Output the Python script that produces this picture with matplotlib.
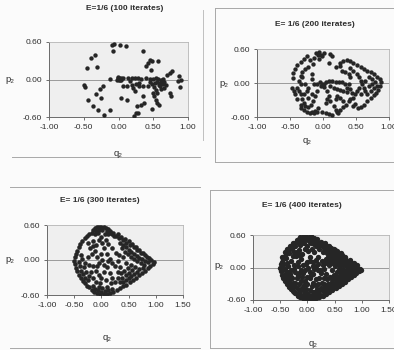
import matplotlib
matplotlib.use("Agg")
import matplotlib.pyplot as plt
from matplotlib.lines import Line2D
import numpy as np

plt.rcParams['font.family'] = ['Liberation Sans', 'DejaVu Sans']

# ---------------- data (q2, p2) ----------------
pts_100 = [(-0.10,0.55),(-0.06,0.57),(0.02,0.55),(0.11,0.54),(-0.08,0.45),(0.35,0.45),
    (-0.34,0.39),(-0.39,0.34),(-0.46,0.18),(-0.31,0.20),(0.45,0.31),(0.48,0.29),(0.42,0.26),
    (0.57,0.30),(0.39,0.22),(0.47,0.16),(0.77,0.14),(0.74,0.10),(0.70,0.08),(0.87,0.05),
    (0.90,-0.01),(0.88,-0.12),(-0.12,0.01),(-0.01,0.04),(0.01,0.02),(0.03,0.03),(-0.02,0.00),
    (0.00,-0.01),(0.04,0.00),(-0.01,0.03),(0.02,-0.01),(0.07,0.02),(0.14,0.02),(0.19,0.02),
    (0.24,0.03),(0.28,0.02),(0.33,0.01),(0.39,0.02),(0.45,0.01),(0.50,0.01),(0.54,0.02),
    (0.57,0.01),(0.61,0.00),(0.64,0.01),(0.06,-0.10),(0.12,-0.10),(0.19,-0.09),(0.21,-0.14),
    (0.25,-0.07),(0.29,-0.11),(0.35,-0.10),(0.42,-0.11),(0.48,-0.07),(0.51,-0.12),(0.58,-0.09),
    (0.64,-0.07),(0.69,-0.09),(0.66,-0.14),(0.61,-0.15),(0.54,-0.16),(0.50,-0.21),(0.51,-0.26),
    (0.56,-0.22),(0.74,-0.21),(0.76,-0.26),(-0.50,-0.09),(-0.48,-0.12),(-0.22,-0.10),
    (-0.27,-0.15),(-0.32,-0.23),(-0.25,-0.29),(-0.44,-0.32),(-0.37,-0.43),(-0.30,-0.48),
    (-0.21,-0.57),(-0.12,-0.48),(0.04,-0.29),(0.12,-0.32),(0.25,-0.53),(0.22,-0.58),
    (0.28,-0.54),(0.27,-0.43),(0.33,-0.40),(0.37,-0.37),(0.35,-0.27),(0.48,-0.47),(0.56,-0.37),
    (0.58,-0.40),(0.54,-0.33),(0.24,-0.18),(0.86,-0.02),(0.55,-0.04),(0.59,-0.05),(0.62,-0.03),
    (0.52,-0.05),(0.60,-0.11),(0.66,-0.04),(0.45,-0.04),(0.16,-0.03),(0.30,-0.05)]

pts_200 = [(-0.11,0.53),(-0.08,0.49),(-0.06,0.54),(-0.03,0.50),(-0.01,0.47),(-0.06,0.43),
    (0.02,0.53),(0.11,0.52),(0.13,0.47),(0.09,0.36),(-0.25,0.47),(-0.29,0.42),(-0.34,0.37),
    (-0.39,0.31),(-0.43,0.24),(-0.45,0.18),(-0.46,0.09),(-0.47,-0.08),(-0.44,-0.14),
    (-0.42,-0.20),(-0.39,-0.29),(-0.34,-0.38),(-0.29,-0.47),(-0.24,-0.52),(-0.19,-0.53),
    (-0.14,-0.53),(-0.09,-0.52),(0.04,-0.53),(0.09,-0.55),(0.14,-0.56),(0.22,-0.53),
    (0.26,-0.47),(0.30,-0.43),(0.35,-0.38),(0.39,-0.32),(0.41,-0.29),(0.45,-0.41),(0.49,-0.37),
    (0.53,-0.44),(0.57,-0.43),(0.62,-0.39),(0.67,-0.32),(0.72,-0.26),(0.77,-0.21),(0.81,-0.17),
    (0.84,-0.13),(0.87,-0.05),(0.88,0.01),(0.86,0.07),(0.82,0.10),(0.78,0.16),(0.73,0.19),
    (0.67,0.21),(0.62,0.25),(0.57,0.28),(0.52,0.32),(0.46,0.35),(0.41,0.38),(0.36,0.41),
    (0.31,0.39),(0.26,0.36),(0.41,0.27),(0.46,0.22),(0.51,0.16),(0.54,0.10),(0.57,0.03),
    (0.59,-0.02),(0.62,-0.08),(0.64,-0.14),(0.67,-0.20),(0.54,-0.08),(0.52,-0.14),(0.49,-0.20),
    (0.46,-0.26),(0.57,-0.20),(0.69,-0.05),(0.74,-0.02),(0.77,-0.08),(0.72,-0.14),(0.64,0.04),
    (0.69,0.10),(0.74,0.07),(0.79,0.01),(0.82,-0.05),(-0.04,0.01),(-0.02,-0.01),(0.01,-0.02),
    (0.04,0.01),(-0.03,-0.05),(0.02,-0.07),(0.09,0.04),(0.14,0.03),(0.19,0.01),(0.24,0.02),
    (0.29,0.01),(0.34,-0.01),(0.39,-0.02),(0.11,-0.05),(0.16,-0.08),(0.21,-0.11),(0.26,-0.13),
    (0.31,-0.14),(0.36,-0.15),(0.06,-0.14),(0.09,-0.23),(0.06,-0.29),(0.05,-0.35),(0.11,-0.32),
    (0.19,-0.29),(0.21,-0.23),(0.26,-0.26),(0.31,-0.32),(0.16,-0.41),(-0.09,-0.14),(-0.12,-0.23),
    (-0.15,-0.32),(-0.18,-0.38),(-0.22,-0.43),(-0.27,-0.41),(-0.29,-0.35),(-0.32,-0.29),
    (-0.29,-0.20),(-0.25,-0.14),(-0.23,-0.08),(-0.27,-0.02),(-0.34,-0.02),(-0.37,0.04),
    (-0.34,0.13),(-0.32,0.19),(-0.27,0.25),(-0.22,0.28),(-0.17,0.16),(-0.09,-0.02),(-0.13,-0.01),
    (-0.17,0.07),(-0.39,-0.08),(-0.37,-0.14),(-0.34,-0.20),(-0.22,-0.26),(-0.17,-0.20),
    (0.36,-0.08),(0.41,-0.11),(0.44,-0.17),(-0.34,-0.44),(-0.17,-0.52),(-0.12,-0.49),
    (0.21,-0.52),(0.19,-0.47),(-0.02,-0.52),(-0.07,-0.44),(0.41,0.10),(0.39,0.16),(0.34,0.19),
    (0.29,0.22),(0.25,0.30),(0.20,0.28),(-0.19,0.41),(-0.14,0.44),(-0.15,0.33),(-0.32,0.10)]

pts_300 = [(-0.12,0.55),(-0.08,0.57),(-0.04,0.56),(0.00,0.57),(0.04,0.56),(0.08,0.55),
    (0.12,0.54),(-0.15,0.52),(-0.10,0.50),(-0.05,0.52),(0.02,0.51),(0.10,0.49),(0.15,0.50),
    (0.18,0.47),(-0.18,0.47),(-0.12,0.45),(-0.06,0.46),(0.06,0.45),(0.13,0.44),(0.20,0.44),
    (0.24,0.41),(-0.22,0.45),(-0.27,0.41),(-0.31,0.37),(-0.35,0.32),(-0.39,0.27),(-0.42,0.22),
    (-0.45,0.16),(-0.47,0.11),(-0.49,0.06),(-0.24,0.29),(-0.15,0.24),(-0.21,0.21),
    (0.22,0.46),(0.27,0.42),(0.30,0.44),(0.33,0.38),(0.36,0.40),(0.40,0.34),(0.43,0.36),
    (0.46,0.30),(0.50,0.32),(0.52,0.26),(0.56,0.27),(0.60,0.22),(0.63,0.23),(0.66,0.18),
    (0.70,0.17),(0.73,0.12),(0.77,0.12),(0.80,0.08),(0.84,0.06),(0.88,0.03),(0.92,0.00),
    (0.96,-0.03),(0.94,-0.06),(0.35,0.30),(0.40,0.26),(0.45,0.22),(0.50,0.18),(0.55,0.14),
    (0.60,0.10),(0.65,0.07),(0.70,0.04),(0.75,0.01),(0.80,-0.02),(0.85,-0.04),(0.38,0.20),
    (0.44,0.14),(0.48,0.10),(0.54,0.06),(0.60,0.02),(0.66,-0.02),(0.72,-0.05),(0.78,-0.08),
    (0.90,-0.10),(0.85,-0.14),(0.80,-0.18),(0.75,-0.22),(0.70,-0.26),(0.64,-0.30),(0.58,-0.34),
    (0.52,-0.38),(0.46,-0.42),(0.40,-0.45),(0.34,-0.48),(0.28,-0.52),(0.76,-0.13),(0.70,-0.16),
    (0.65,-0.20),(0.60,-0.24),(0.55,-0.28),(0.50,-0.31),(0.45,-0.35),(0.40,-0.38),(0.62,-0.12),
    (0.56,-0.17),(0.50,-0.22),(0.45,-0.26),(0.38,-0.30),(0.54,-0.08),(0.48,-0.13),(0.42,-0.18),
    (0.22,-0.55),(0.16,-0.57),(0.10,-0.58),(0.04,-0.58),(-0.02,-0.58),(-0.08,-0.57),(-0.14,-0.55),
    (0.20,-0.50),(0.13,-0.52),(0.06,-0.53),(0.00,-0.55),(-0.06,-0.52),(-0.12,-0.50),(-0.18,-0.52),
    (0.10,-0.46),(0.02,-0.48),(-0.05,-0.46),(-0.15,-0.45),(-0.22,-0.47),(-0.26,-0.44),
    (-0.30,-0.40),(-0.34,-0.36),(-0.38,-0.31),(-0.42,-0.25),(-0.45,-0.19),(-0.47,-0.13),
    (-0.49,-0.07),(-0.50,-0.01),(-0.30,-0.30),(-0.34,-0.24),(-0.38,-0.18),(-0.40,-0.10),
    (-0.42,-0.03),(-0.25,-0.35),(-0.22,-0.28),(-0.28,-0.20),(-0.32,-0.12),(-0.36,0.02),
    (-0.38,0.08),(-0.18,0.10),(-0.12,0.15),(-0.08,0.05),(-0.05,-0.05),(0.00,0.10),(0.05,0.20),
    (0.02,0.30),(-0.05,0.35),(0.08,0.35),(0.12,0.28),(0.10,0.10),(0.15,0.02),(0.20,-0.05),
    (0.25,-0.10),(0.30,-0.02),(0.32,0.08),(0.26,0.12),(0.20,0.20),(-0.15,-0.10),(-0.10,-0.18),
    (-0.05,-0.25),(0.00,-0.30),(0.05,-0.20),(0.10,-0.12),(0.15,-0.22),(0.20,-0.30),(0.25,-0.38),
    (0.30,-0.20),(0.35,-0.12),(-0.20,-0.20),(-0.15,-0.30),(-0.10,-0.38),(-0.02,-0.40),
    (0.08,-0.35),(0.18,-0.40),(0.35,-0.38),(0.30,-0.30),(-0.25,0.05),(-0.30,-0.05),(-0.22,-0.08),
    (-0.10,0.25),(-0.15,0.32),(0.00,0.40),(0.05,-0.08),(0.12,-0.02),(0.40,0.05),(0.45,-0.05),
    (0.36,-0.22),(-0.08,-0.10),(0.02,0.00)]

pts_301_400 = [(-0.45,0.05),(-0.47,-0.05),(-0.44,-0.15),(-0.40,-0.22),(-0.36,-0.28),
    (-0.32,-0.34),(-0.28,-0.40),(-0.24,-0.46),(-0.18,-0.50),(-0.10,-0.54),(0.00,-0.52),
    (0.08,-0.56),(0.14,-0.54),(0.24,-0.50),(0.30,-0.46),(0.36,-0.43),(0.42,-0.40),(0.48,-0.36),
    (0.55,-0.32),(0.62,-0.27),(0.68,-0.22),(0.74,-0.17),(0.82,-0.12),(0.88,-0.07),(0.98,-0.05),
    (0.92,0.04),(0.86,0.08),(0.78,0.14),(0.70,0.20),(0.62,0.26),(0.55,0.30),(0.48,0.35),
    (0.40,0.40),(0.32,0.45),(0.25,0.48),(0.18,0.52),(0.06,0.58),(-0.06,0.58),(-0.14,0.56),
    (-0.20,0.50),(-0.26,0.46),(-0.32,0.40),(-0.38,0.34),(-0.42,0.28),(-0.46,0.20),(-0.40,0.18),
    (-0.34,0.26),(-0.28,0.34),(-0.22,0.40),(-0.30,0.12),(-0.26,0.22),(-0.20,0.28),(-0.14,0.42),
    (-0.08,0.48),(0.04,0.48),(0.16,0.40),(0.22,0.34),(0.28,0.28),(0.30,0.36),(0.36,0.26),
    (0.42,0.28),(0.48,0.24),(0.52,0.20),(0.58,0.16),(0.64,0.12),(0.68,0.10),(0.74,0.06),
    (0.82,0.02),(0.70,-0.10),(0.64,-0.06),(0.58,-0.02),(0.50,0.02),(0.46,0.08),(0.40,0.12),
    (0.34,0.16),(0.28,0.04),(0.24,-0.04),(0.20,0.06),(0.16,0.14),(0.10,0.02),(0.06,-0.14),
    (0.00,-0.18),(-0.06,-0.32),(-0.12,-0.24),(-0.18,-0.14),(-0.24,-0.02),(-0.18,0.02),
    (-0.12,-0.04),(-0.02,0.06),(0.04,0.12),(0.10,-0.28),(0.16,-0.32),(0.22,-0.20),(0.26,-0.28),
    (0.32,-0.36),(0.40,-0.30),(0.44,-0.20),(0.50,-0.16),(0.56,-0.22),(0.60,-0.16),(0.66,-0.14),
    (0.72,-0.20),(0.78,-0.15),(0.84,-0.09),(-0.30,-0.18),(-0.36,-0.08),(-0.26,-0.28),
    (-0.20,-0.38),(-0.14,-0.42),(-0.06,-0.44),(0.04,-0.42),(0.14,-0.46),(0.22,-0.44),(0.28,-0.40)]

titles = ["E=1/6 (100 iterates)", "E= 1/6 (200 iterates)",
          "E= 1/6 (300 iterates)", "E= 1/6 (400 iterates)"]
xticks_a = [-1.00, -0.50, 0.00, 0.50, 1.00]
xticks_b = [-1.00, -0.50, 0.00, 0.50, 1.00, 1.50]
yticks = [-0.60, 0.00, 0.60]

datasets = [pts_100, pts_200, pts_300, pts_300 + pts_301_400]

# ---------------- layout ----------------
W, H = 394, 350
fig = plt.figure(figsize=(W/100, H/100), dpi=100, facecolor='#fbfbfb')

def fx(x): return x / W
def fy(y): return 1 - y / H

boxes = [(49, 42, 188, 117), (257, 49, 389, 117), (47, 225, 183, 295), (253, 235, 389, 300)]
title_pos = [(125, 8), (315, 25), (100, 201), (302, 206)]
ylab_pos = [(10, 79), (224, 83), (10, 260), (219, 266)]
xlab_pos = [(118, 153), (307, 141), (107, 338), (313, 343)]
xt_sets = [xticks_a, xticks_a, xticks_b, xticks_b]
dot_sizes = [10, 10, 11, 15]

ink = '#262626'
for i in range(4):
    l, t, r, b = boxes[i]
    ax = fig.add_axes([fx(l), fy(b), (r - l) / W, (b - t) / H])
    ax.set_facecolor('#efefef')
    q = [pt[0] for pt in datasets[i]]
    p = [pt[1] for pt in datasets[i]]
    ax.axhline(0, color='#9a9a9a', lw=0.7, zorder=1)
    ax.scatter(q, p, s=dot_sizes[i], color=ink, linewidths=0, zorder=3)
    xt = xt_sets[i]
    ax.set_xlim(xt[0], xt[-1])
    ax.set_ylim(-0.60, 0.60)
    ax.set_xticks(xt)
    ax.set_xticklabels([f"{v:.2f}" for v in xt])
    ax.set_yticks(yticks)
    ax.set_yticklabels([f"{v:.2f}" for v in yticks])
    ax.tick_params(labelsize=6.0, length=2, width=0.6, pad=3, colors='#555555',
                   labelcolor='#2e2e2e')
    for s in ['top', 'right']:
        ax.spines[s].set_color('#b5b5b5')
        ax.spines[s].set_linewidth(0.6)
    for s in ['left', 'bottom']:
        ax.spines[s].set_color('#6a6a6a')
        ax.spines[s].set_linewidth(0.7)
    tx, ty = title_pos[i]
    fig.text(fx(tx), fy(ty), titles[i], ha='center', va='center', fontsize=6.0,
             fontweight='bold', color='#2e2e2e')
    yx, yy = ylab_pos[i]
    fig.text(fx(yx), fy(yy), "p₂", ha='center', va='center', fontsize=6.8, color='#2e2e2e')
    xx, xy = xlab_pos[i]
    fig.text(fx(xx), fy(xy), "q₂", ha='center', va='center', fontsize=6.8, color='#2e2e2e')

# chart borders / page edges
def hline(x0, x1, y, c='#a8a8a8', lw=0.7):
    fig.add_artist(Line2D([fx(x0), fx(x1)], [fy(y), fy(y)], color=c, lw=lw))

def vline(x, y0, y1, c='#a8a8a8', lw=0.7):
    fig.add_artist(Line2D([fx(x), fx(x)], [fy(y0), fy(y1)], color=c, lw=lw))

hline(12, 200, 157)
vline(203, 10, 140, c='#c0c0c0')
vline(215, 8, 162)
hline(215, 394, 8)
hline(215, 394, 162)
hline(10, 200, 187)
hline(10, 200, 348)
vline(210, 190, 348)
hline(210, 394, 190)
hline(210, 394, 348)

fig.savefig("out.png", dpi=100, facecolor=fig.get_facecolor())
